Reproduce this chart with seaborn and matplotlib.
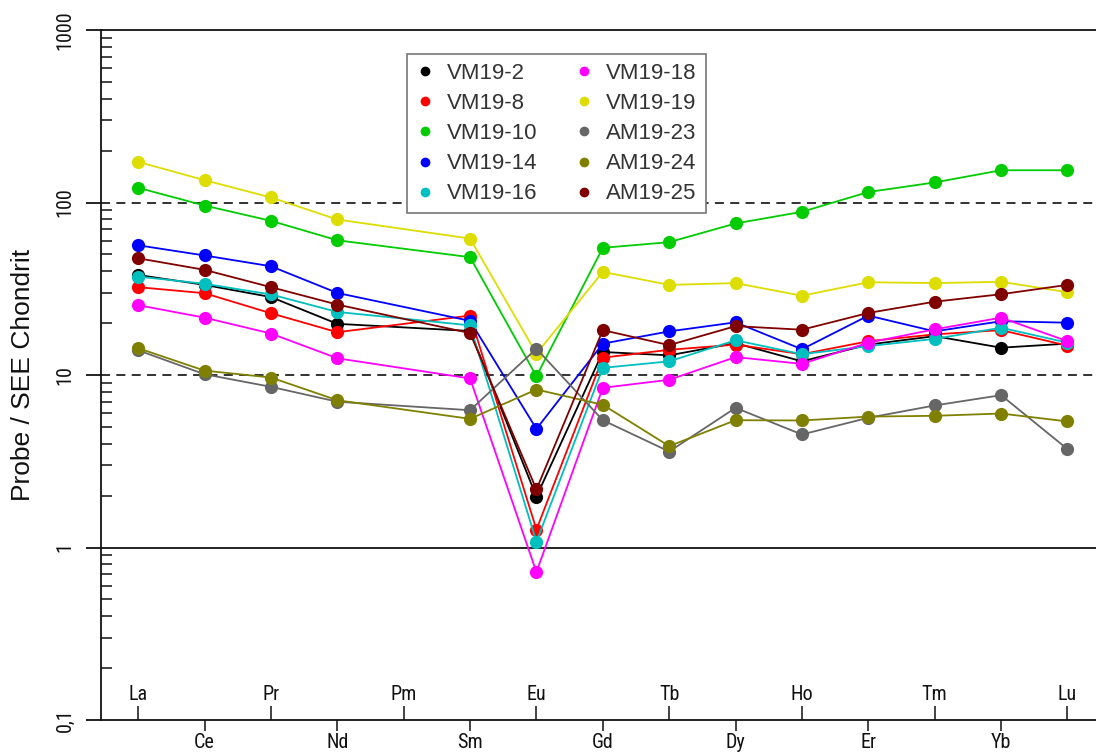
import numpy as np
import pandas as pd
import matplotlib
matplotlib.use("Agg")
import matplotlib.pyplot as plt
import seaborn as sns
from matplotlib.lines import Line2D
from matplotlib.ticker import LogLocator, NullFormatter
from matplotlib import font_manager
from matplotlib.font_manager import FontProperties

# ---------------- data ----------------
elements = ["La", "Ce", "Pr", "Nd", "Pm", "Sm", "Eu", "Gd",
            "Tb", "Dy", "Ho", "Er", "Tm", "Yb", "Lu"]
samples = ["VM19-2", "VM19-8", "VM19-10", "VM19-14", "VM19-16",
           "VM19-18", "VM19-19", "AM19-23", "AM19-24", "AM19-25"]
colors = ["#000000", "#FF0000", "#00CC00", "#0000FF", "#00BFBF",
          "#FF00FF", "#DDDD00", "#666666", "#808000", "#800000"]

NA = np.nan
#            La     Ce     Pr    Nd   Pm   Sm    Eu    Gd    Tb    Dy    Ho    Er    Tm     Yb     Lu
vm19_2  = [38.0,  33.3,  28.3, 19.8, NA, 18.0, 1.97, 13.6, 13.0, 15.3, 12.0, 15.0, 16.8,  14.4,  15.2]
vm19_8  = [32.3,  29.8,  22.8, 17.7, NA, 22.1, 1.27, 12.6, 14.0, 15.0, 13.2, 15.7, 17.2,  18.2,  14.8]
vm19_10 = [121.7, 96.0,  78.3, 60.4, NA, 48.2, 9.84, 54.6, 58.9, 75.6, 88.3, 115., 130.7, 153.8, 153.8]
vm19_14 = [56.5,  49.3,  42.7, 29.9, NA, 20.6, 4.87, 15.2, 17.9, 20.2, 14.1, 22.1, 17.9,  20.5,  20.1]
vm19_16 = [37.2,  33.8,  29.3, 23.2, NA, 19.4, 1.08, 11.0, 12.0, 15.9, 13.2, 14.7, 16.2,  18.8,  15.4]
vm19_18 = [25.4,  21.5,  17.4, 12.5, NA, 9.55, 0.72, 8.43, 9.38, 12.7, 11.6, 15.4, 18.4,  21.5,  15.7]
vm19_19 = [172.0, 134.7, 107., 79.7, NA, 61.8, 13.3, 39.6, 33.3, 34.1, 28.8, 34.5, 34.1,  34.7,  30.2]
am19_23 = [13.9,  10.1,  8.54, 7.00, NA, 6.25, 14.2, 5.47, 3.60, 6.45, 4.52, 5.65, 6.66,  7.64,  3.72]
am19_24 = [14.3,  10.6,  9.67, 7.14, NA, 5.57, 8.24, 6.72, 3.87, 5.47, 5.45, 5.74, 5.80,  5.98,  5.38]
am19_25 = [47.5,  40.7,  32.3, 25.6, NA, 17.5, 2.17, 18.2, 14.9, 19.2, 18.3, 22.9, 26.6,  29.4,  33.3]

series = [vm19_2, vm19_8, vm19_10, vm19_14, vm19_16,
          vm19_18, vm19_19, am19_23, am19_24, am19_25]

rows = []
for name, vals in zip(samples, series):
    for i, v in enumerate(vals):
        rows.append({"sample": name, "pos": i, "value": v})
df = pd.DataFrame(rows).dropna()

# ---------------- style ----------------
sns.set_theme(style="white")
fonts = font_manager.fontManager.ttflist
names = {f.name for f in fonts}
base_font = "Liberation Sans" if "Liberation Sans" in names else "DejaVu Sans"
plt.rcParams["font.family"] = [base_font, "DejaVu Sans"]

# look for a condensed sans face for the tick labels
narrow_path = None
for pref in ["Liberation Sans Narrow", "Arial Narrow", "Roboto Condensed",
             "Open Sans Condensed", "Noto Sans Condensed", "DejaVu Sans Condensed"]:
    for f in fonts:
        if f.name == pref and f.weight in (400, "normal", "regular") and f.style == "normal":
            narrow_path = f.fname
            break
    if narrow_path:
        break
if narrow_path is None:
    for f in fonts:
        if (f.name in ("Liberation Sans", "DejaVu Sans", "Roboto", "Open Sans", "Noto Sans")
                and str(f.stretch) in ("condensed", "semi-condensed", "extra-condensed")
                and f.style == "normal" and f.weight in (400, "normal", "regular")):
            narrow_path = f.fname
            break
if narrow_path is not None:
    tick_fp = FontProperties(fname=narrow_path, size=14.5)
else:
    tick_fp = FontProperties(family=base_font, size=13)

main_fp_legend = FontProperties(family=base_font, size=16)
main_fp_label = FontProperties(family=base_font, size=19)

fig = plt.figure(figsize=(10.96, 7.54), dpi=100)
ax = fig.add_axes([101 / 1096, 34 / 754, 995 / 1096, 690 / 754])

# reference lines
ax.axhline(1, color="#111111", lw=1.3, zorder=1)
ax.axhline(10, color="#222222", lw=1.3, ls=(0, (5, 3.5)), zorder=1)
ax.axhline(100, color="#222222", lw=1.3, ls=(0, (5, 3.5)), zorder=1)

sns.lineplot(data=df, x="pos", y="value", hue="sample", hue_order=samples,
             palette=colors, marker="o", markersize=9.5, markeredgewidth=0,
             linewidth=1.3, legend=False, estimator=None, sort=False, ax=ax)

ax.set_yscale("log")
ax.set_ylim(0.1, 1000)
ax.set_xlim(-0.56, 14.43)

# y ticks
ax.set_yticks([0.1, 1, 10, 100, 1000])
ax.set_yticklabels(["0,1", "1", "10", "100", "1000"], rotation=90, va="center",
                   fontproperties=tick_fp)
ax.yaxis.set_minor_locator(LogLocator(base=10, subs=np.arange(2, 10)))
ax.yaxis.set_minor_formatter(NullFormatter())
ax.tick_params(axis="y", which="major", direction="out", length=11, width=1.3,
               pad=8, colors="#111111", left=True)
ax.tick_params(axis="y", which="minor", direction="in", length=8, width=1.1,
               color="#111111", left=True)

# x ticks: odd below (out), even above (in)
odd = [i for i in range(len(elements)) if i % 2 == 1]
even = [i for i in range(len(elements)) if i % 2 == 0]
ax.set_xticks(odd)
ax.set_xticklabels([elements[i] for i in odd], fontproperties=tick_fp)
ax.set_xticks(even, minor=True)
ax.set_xticklabels([elements[i] for i in even], minor=True, fontproperties=tick_fp)
ax.tick_params(axis="x", which="major", direction="out", length=8, width=1.1,
               pad=1, colors="#111111", bottom=True)
ax.tick_params(axis="x", which="minor", direction="in", length=10, width=1.1,
               pad=-25, colors="#111111", bottom=True)

for side in ["left", "bottom", "top"]:
    ax.spines[side].set_visible(True)
    ax.spines[side].set_color("#111111")
    ax.spines[side].set_linewidth(1.3)
ax.spines["right"].set_visible(False)

ax.set_xlabel("")
ax.set_ylabel("Probe / SEE Chondrit", fontproperties=main_fp_label, color="#111111")
ax.yaxis.set_label_coords(-0.066, 0.5)

handles = [Line2D([], [], ls="none", marker="o", markersize=7,
                  markerfacecolor=c, markeredgewidth=0, color=c) for c in colors]
leg = ax.legend(handles, samples, ncol=2, loc="upper left",
                bbox_to_anchor=(0.3075, 0.965), prop=main_fp_legend, frameon=True,
                fancybox=False, edgecolor="#777777", framealpha=1,
                borderpad=0.4, handlelength=0.8, handletextpad=0.6,
                columnspacing=1.7, labelspacing=0.41, borderaxespad=0,
                labelcolor="#333333")
leg.get_frame().set_linewidth(1.2)

fig.savefig("out.png", dpi=100)
